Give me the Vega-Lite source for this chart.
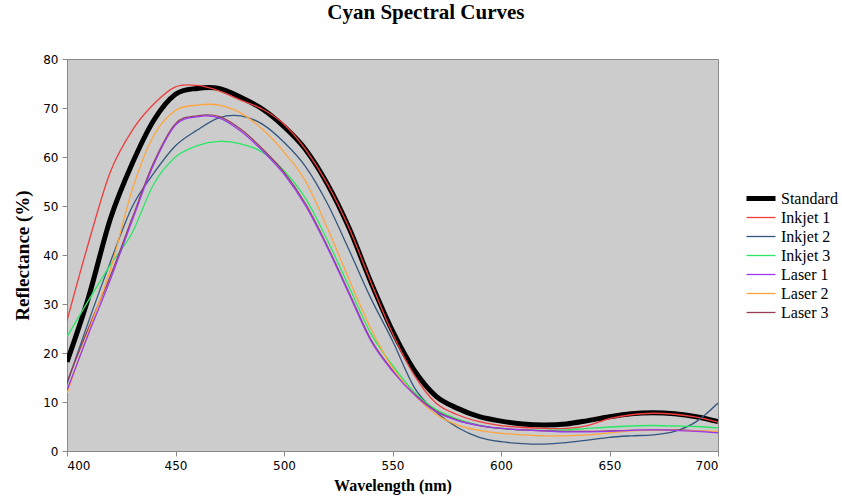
{
  "$schema": "https://vega.github.io/schema/vega-lite/v6.json",
  "width": 651,
  "height": 392,
  "autosize": {"type": "none"},
  "padding": {"left": 67, "top": 59, "right": 124, "bottom": 46},
  "background": "white",
  "title": {
    "text": "Cyan Spectral Curves",
    "font": "Liberation Serif",
    "fontSize": 21,
    "fontWeight": "bold",
    "color": "black",
    "anchor": "middle",
    "frame": "bounds",
    "offset": 30
  },
  "config": {
    "view": {"fill": "#cccccc", "stroke": "#8a8a8a", "strokeWidth": 1},
    "style": {"guide-label": {"font": "Liberation Serif"}},
    "legend": {
      "labelFont": "Liberation Serif",
      "labelFontSize": 16,
      "labelColor": "black",
      "labelOffset": 3,
      "symbolType": "stroke",
      "symbolSize": 841,
      "clipHeight": 19,
      "rowPadding": 0
    }
  },
  "data": {
    "values": [
      {"wl": 400, "Standard": 18.2, "Inkjet 1": 26.6, "Inkjet 2": 13.7, "Inkjet 3": 23.3, "Laser 1": 12.4, "Laser 2": 11.8, "Laser 3": 14.1},
      {"wl": 410, "Standard": 31.5, "Inkjet 1": 42.6, "Inkjet 2": 26.5, "Inkjet 3": 30.8, "Laser 1": 24.0, "Laser 2": 24.5, "Laser 3": 25.2},
      {"wl": 420, "Standard": 47.4, "Inkjet 1": 57.0, "Inkjet 2": 38.6, "Inkjet 3": 38.0, "Laser 1": 35.0, "Laser 2": 37.0, "Laser 3": 35.7},
      {"wl": 430, "Standard": 58.6, "Inkjet 1": 65.4, "Inkjet 2": 49.8, "Inkjet 3": 44.5, "Laser 1": 47.0, "Laser 2": 53.3, "Laser 3": 47.5},
      {"wl": 440, "Standard": 67.5, "Inkjet 1": 70.8, "Inkjet 2": 56.7, "Inkjet 3": 54.5, "Laser 1": 58.5, "Laser 2": 64.4, "Laser 3": 58.9},
      {"wl": 450, "Standard": 72.8, "Inkjet 1": 74.3, "Inkjet 2": 62.3, "Inkjet 3": 60.0, "Laser 1": 66.5, "Laser 2": 69.5, "Laser 3": 66.8},
      {"wl": 460, "Standard": 74.0, "Inkjet 1": 74.6, "Inkjet 2": 65.5, "Inkjet 3": 62.3, "Laser 1": 68.2, "Laser 2": 70.6, "Laser 3": 68.4},
      {"wl": 470, "Standard": 74.0, "Inkjet 1": 73.5, "Inkjet 2": 68.0, "Inkjet 3": 63.2, "Laser 1": 68.0, "Laser 2": 70.6, "Laser 3": 68.3},
      {"wl": 480, "Standard": 72.2, "Inkjet 1": 71.6, "Inkjet 2": 68.4, "Inkjet 3": 62.7, "Laser 1": 65.3, "Laser 2": 69.0, "Laser 3": 65.7},
      {"wl": 490, "Standard": 69.8, "Inkjet 1": 69.8, "Inkjet 2": 66.7, "Inkjet 3": 61.0, "Laser 1": 61.3, "Laser 2": 65.7, "Laser 3": 61.7},
      {"wl": 500, "Standard": 66.2, "Inkjet 1": 66.7, "Inkjet 2": 63.0, "Inkjet 3": 57.2, "Laser 1": 56.5, "Laser 2": 61.0, "Laser 3": 56.9},
      {"wl": 510, "Standard": 61.5, "Inkjet 1": 61.5, "Inkjet 2": 58.0, "Inkjet 3": 51.5, "Laser 1": 50.0, "Laser 2": 55.0, "Laser 3": 50.4},
      {"wl": 520, "Standard": 54.5, "Inkjet 1": 54.5, "Inkjet 2": 50.5, "Inkjet 3": 43.0, "Laser 1": 41.5, "Laser 2": 45.5, "Laser 3": 41.8},
      {"wl": 530, "Standard": 45.5, "Inkjet 1": 45.5, "Inkjet 2": 41.0, "Inkjet 3": 33.5, "Laser 1": 32.0, "Laser 2": 35.0, "Laser 3": 32.3},
      {"wl": 540, "Standard": 34.5, "Inkjet 1": 34.5, "Inkjet 2": 31.2, "Inkjet 3": 24.0, "Laser 1": 22.5, "Laser 2": 25.0, "Laser 3": 22.8},
      {"wl": 550, "Standard": 24.5, "Inkjet 1": 24.0, "Inkjet 2": 22.5, "Inkjet 3": 17.5, "Laser 1": 16.3, "Laser 2": 17.0, "Laser 3": 16.5},
      {"wl": 560, "Standard": 16.5, "Inkjet 1": 15.5, "Inkjet 2": 13.0, "Inkjet 3": 12.0, "Laser 1": 11.5, "Laser 2": 11.5, "Laser 3": 11.7},
      {"wl": 570, "Standard": 11.2, "Inkjet 1": 9.8, "Inkjet 2": 8.0, "Inkjet 3": 8.5, "Laser 1": 8.0, "Laser 2": 7.5, "Laser 3": 8.2},
      {"wl": 580, "Standard": 8.7, "Inkjet 1": 7.4, "Inkjet 2": 4.8, "Inkjet 3": 6.5, "Laser 1": 6.2, "Laser 2": 5.3, "Laser 3": 6.3},
      {"wl": 590, "Standard": 7.0, "Inkjet 1": 6.0, "Inkjet 2": 2.8, "Inkjet 3": 5.3, "Laser 1": 5.2, "Laser 2": 4.2, "Laser 3": 5.2},
      {"wl": 600, "Standard": 6.1, "Inkjet 1": 5.2, "Inkjet 2": 1.9, "Inkjet 3": 4.6, "Laser 1": 4.6, "Laser 2": 3.6, "Laser 3": 4.6},
      {"wl": 610, "Standard": 5.5, "Inkjet 1": 4.8, "Inkjet 2": 1.5, "Inkjet 3": 4.3, "Laser 1": 4.3, "Laser 2": 3.3, "Laser 3": 4.3},
      {"wl": 620, "Standard": 5.3, "Inkjet 1": 4.6, "Inkjet 2": 1.4, "Inkjet 3": 4.2, "Laser 1": 4.1, "Laser 2": 3.1, "Laser 3": 4.1},
      {"wl": 630, "Standard": 5.5, "Inkjet 1": 4.6, "Inkjet 2": 1.7, "Inkjet 3": 4.3, "Laser 1": 3.9, "Laser 2": 3.1, "Laser 3": 4.0},
      {"wl": 640, "Standard": 6.2, "Inkjet 1": 5.2, "Inkjet 2": 2.2, "Inkjet 3": 4.6, "Laser 1": 3.9, "Laser 2": 3.3, "Laser 3": 4.0},
      {"wl": 650, "Standard": 7.0, "Inkjet 1": 6.6, "Inkjet 2": 2.8, "Inkjet 3": 4.9, "Laser 1": 4.0, "Laser 2": 3.7, "Laser 3": 4.1},
      {"wl": 660, "Standard": 7.6, "Inkjet 1": 7.4, "Inkjet 2": 3.1, "Inkjet 3": 5.1, "Laser 1": 4.2, "Laser 2": 4.1, "Laser 3": 4.2},
      {"wl": 670, "Standard": 7.8, "Inkjet 1": 7.7, "Inkjet 2": 3.3, "Inkjet 3": 5.2, "Laser 1": 4.3, "Laser 2": 4.2, "Laser 3": 4.3},
      {"wl": 680, "Standard": 7.6, "Inkjet 1": 7.5, "Inkjet 2": 4.0, "Inkjet 3": 5.1, "Laser 1": 4.2, "Laser 2": 4.2, "Laser 3": 4.3},
      {"wl": 690, "Standard": 7.0, "Inkjet 1": 6.9, "Inkjet 2": 6.0, "Inkjet 3": 5.0, "Laser 1": 4.0, "Laser 2": 4.1, "Laser 3": 4.1},
      {"wl": 700, "Standard": 6.0, "Inkjet 1": 5.9, "Inkjet 2": 9.8, "Inkjet 3": 4.7, "Laser 1": 3.7, "Laser 2": 4.0, "Laser 3": 3.8}
    ]
  },
  "transform": [
    {"fold": ["Standard", "Inkjet 1", "Inkjet 2", "Inkjet 3", "Laser 3", "Laser 2", "Laser 1"], "as": ["series", "value"]}
  ],
  "mark": {"type": "line", "interpolate": "cardinal", "clip": true},
  "encoding": {
    "x": {
      "field": "wl",
      "type": "quantitative",
      "scale": {"domain": [400, 700], "nice": false, "zero": false},
      "axis": {
        "title": "Wavelength (nm)",
        "values": [400, 450, 500, 550, 600, 650, 700],
        "grid": false,
        "domainColor": "#8a8a8a",
        "tickColor": "#8a8a8a",
        "tickSize": 5,
        "labelFont": "DejaVu Sans",
        "labelFontSize": 12,
        "labelColor": "black",
        "labelPadding": 4,
        "titleFont": "Liberation Serif",
        "titleFontSize": 16,
        "titleFontWeight": "bold",
        "titleColor": "black",
        "titlePadding": 6
      }
    },
    "y": {
      "field": "value",
      "type": "quantitative",
      "scale": {"domain": [0, 80], "nice": false},
      "axis": {
        "title": "Reflectance (%)",
        "values": [0, 10, 20, 30, 40, 50, 60, 70, 80],
        "grid": false,
        "domainColor": "#8a8a8a",
        "tickColor": "#8a8a8a",
        "tickSize": 5,
        "labelFont": "DejaVu Sans",
        "labelFontSize": 12,
        "labelColor": "black",
        "labelPadding": 4,
        "titleFont": "Liberation Serif",
        "titleFontSize": 19,
        "titleFontWeight": "bold",
        "titleColor": "black",
        "titlePadding": 10
      }
    },
    "color": {
      "field": "series",
      "type": "nominal",
      "scale": {
        "domain": ["Standard", "Inkjet 1", "Inkjet 2", "Inkjet 3", "Laser 1", "Laser 2", "Laser 3"],
        "range": ["#000000", "#f03c3c", "#34567f", "#2ae865", "#9a3af0", "#ffa53c", "#944052"]
      },
      "legend": {
        "title": null,
        "orient": "none",
        "legendX": 677,
        "legendY": 130,
        "labelFont": "Liberation Serif",
        "labelFontSize": 16
      }
    },
    "strokeWidth": {
      "field": "series",
      "type": "nominal",
      "scale": {
        "type": "ordinal",
        "domain": ["Standard", "Inkjet 1", "Inkjet 2", "Inkjet 3", "Laser 1", "Laser 2", "Laser 3"],
        "range": [5, 1.3, 1.3, 1.3, 1.3, 1.3, 1.3]
      },
      "legend": {
        "title": null,
        "orient": "none",
        "legendX": 677,
        "legendY": 130,
        "labelFont": "Liberation Serif",
        "labelFontSize": 16
      }
    }
  }
}
